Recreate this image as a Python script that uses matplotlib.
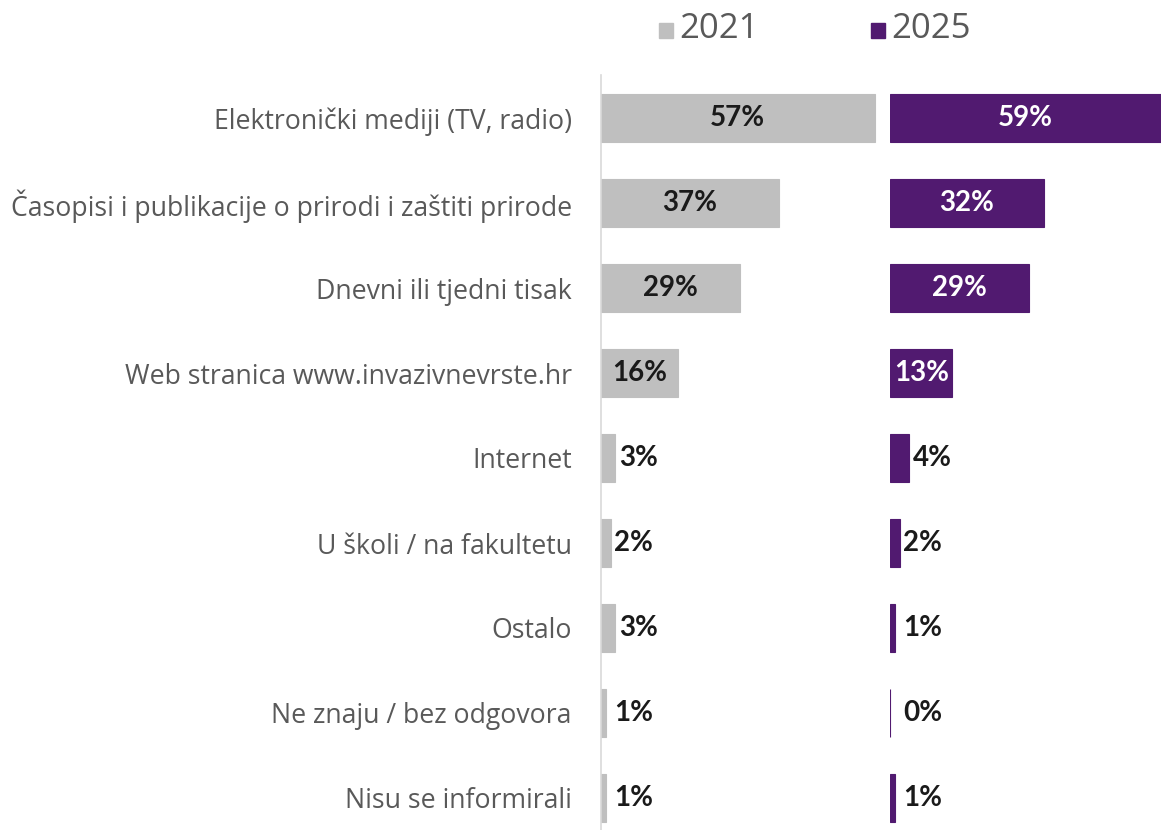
import matplotlib
matplotlib.use("Agg")
import matplotlib.pyplot as plt
from matplotlib.patches import Rectangle

plt.rcParams['font.family'] = ['Open Sans', 'DejaVu Sans']

categories = [
    "Elektronički mediji (TV, radio)",
    "Časopisi i publikacije o prirodi i zaštiti prirode",
    "Dnevni ili tjedni tisak",
    "Web stranica www.invazivnevrste.hr",
    "Internet",
    "U školi / na fakultetu",
    "Ostalo",
    "Ne znaju / bez odgovora",
    "Nisu se informirali",
]
values_2021 = [57, 37, 29, 16, 3, 2, 3, 1, 1]
values_2025 = [59, 32, 29, 13, 4, 2, 1, 0, 1]
series_labels = ["2021", "2025"]

gray = "#BFBFBF"
purple = "#511A70"
W, H = 1161, 830
fig = plt.figure(figsize=(W / 100, H / 100), dpi=100)

px_per_pct = 4.8
x0_left, x0_right = 601, 890
top_px, bot_px = 75, 830
axes_h = (bot_px - top_px) / H

ax1 = fig.add_axes([x0_left / W, 0, (x0_right - x0_left) / W, axes_h])
ax2 = fig.add_axes([x0_right / W, 0, (W - x0_right) / W, axes_h])

n = len(categories)
ys = list(range(n))
row_px = 85.0
ylim = (n - 1 + (bot_px - 798) / row_px, -(118 - top_px) / row_px)

val_font = dict(family=['Lato', 'DejaVu Sans'], fontsize=20, fontweight='bold')

for ax, vals, col, txtcol in [(ax1, values_2021, gray, "#1A1A1A"),
                              (ax2, values_2025, purple, "white")]:
    width_px = ax.get_position().width * W
    xmax = width_px / px_per_pct
    ax.barh(ys, vals, height=0.57, color=col, edgecolor=col, linewidth=0.8)
    ax.set_xlim(0, xmax)
    ax.set_ylim(*ylim)
    for s in ax.spines.values():
        s.set_visible(False)
    ax.set_xticks([])
    ax.set_yticks([])
    for y, v in zip(ys, vals):
        if v >= 10:
            xc = min(v, xmax) / 2
            ax.text(xc, y, f"{v}%", ha='center', va='center', color=txtcol, **val_font)
        else:
            ax.annotate(f"{v}%", (max(v, 2.0), y), xytext=(2.5, 0), textcoords='offset points',
                        ha='left', va='center', color="#1A1A1A", **val_font)

ax1.spines['left'].set_visible(True)
ax1.spines['left'].set_color("#D9D9D9")
ax1.spines['left'].set_linewidth(1.2)
ax1.set_yticks(ys)
ax1.set_yticklabels(categories, fontsize=19.2, color="#595959")
ax1.tick_params(axis='y', length=0, pad=21)

# legend
for lx, lab, col in [(659, series_labels[0], gray), (871, series_labels[1], purple)]:
    fig.patches.append(Rectangle((lx / W, 1 - 38 / H), 14 / W, 15 / H, transform=fig.transFigure,
                                 color=col, figure=fig))
    fig.text((lx + 20) / W, 1 - 29 / H, lab, fontsize=25, color="#595959", va='center', ha='left')

fig.savefig("out.png", dpi=100)
